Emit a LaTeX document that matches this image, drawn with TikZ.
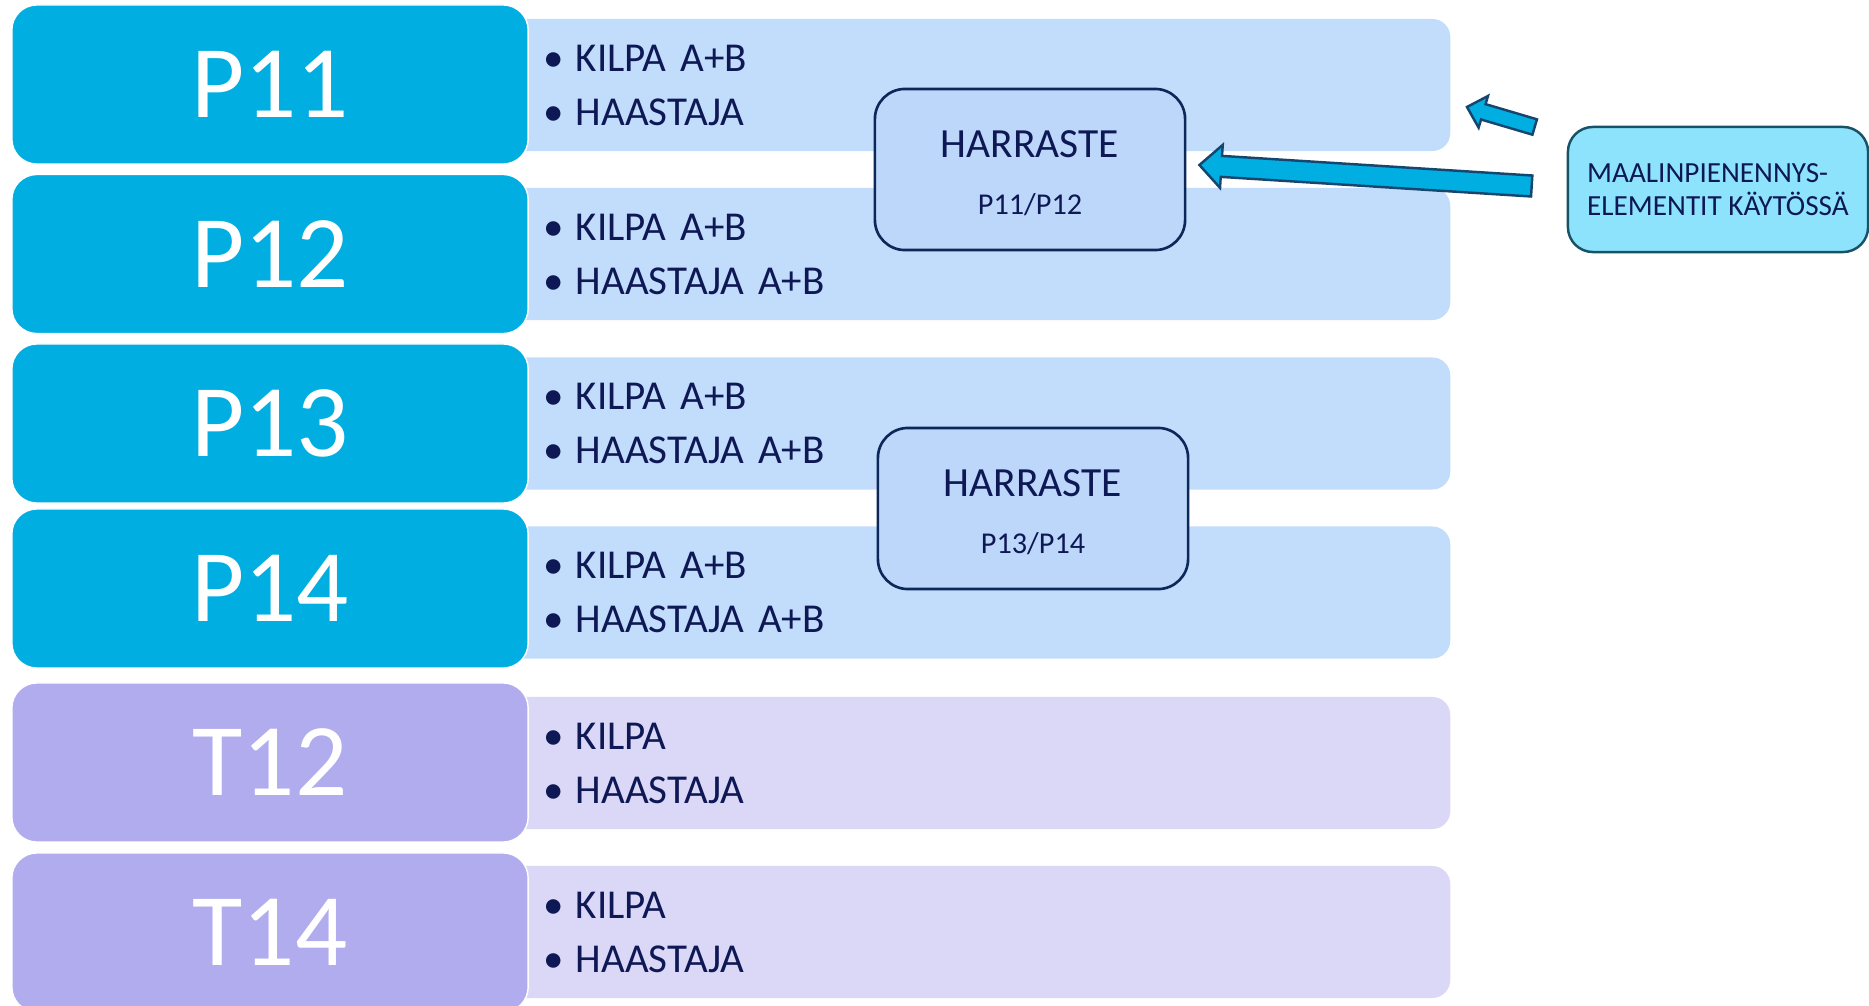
\documentclass[tikz,border=0pt]{standalone}
\usepackage{fontspec}
\setmainfont{Carlito}
\usepackage{tikz}
\usetikzlibrary{calc}

\definecolor{pcyan}{RGB}{0,174,225}
\definecolor{pbandc}{RGB}{194,220,252}
\definecolor{tlila}{RGB}{176,172,238}
\definecolor{tbandc}{RGB}{219,216,247}
\definecolor{harrfill}{RGB}{189,215,251}
\definecolor{navy}{RGB}{14,24,84}
\definecolor{harrline}{RGB}{12,40,88}
\definecolor{mbfill}{RGB}{142,227,252}
\definecolor{mbline}{RGB}{24,82,102}
\definecolor{arrline}{RGB}{22,70,110}

\tikzset{
	pbox/.style={fill=pcyan, draw=white, line width=0.4pt, rounded corners=0.25cm,
		minimum width=5.16cm, minimum height=1.59cm, text=white,
		font=\fontsize{29.3}{35}\selectfont},
	tbox/.style={pbox, fill=tlila},
	band/.style={fill=pbandc, rounded corners=0.18cm, minimum height=1.32cm,
		text width=8.62cm, inner xsep=0.44cm, inner ysep=0pt, align=left, text=navy,
		font=\fontsize{11.67}{15.36}\selectfont},
	tband/.style={band, fill=tbandc},
	harr/.style={fill=harrfill, draw=harrline, line width=0.75pt, rounded corners=0.3cm,
		minimum width=3.1cm, minimum height=1.61cm, align=center, text=navy,
		font=\fontsize{11.8}{16.2}\selectfont},
	note/.style={fill=mbfill, draw=mbline, line width=0.7pt, rounded corners=0.25cm,
		minimum width=3cm, minimum height=1.25cm, align=left, text=navy,
		font=\fontsize{8.3}{9.4}\selectfont},
	arrowbody/.style={fill=pcyan, draw=arrline, line width=0.7pt, line join=miter}
}

\newcommand{\itm}[1]{\makebox[0.32cm][l]{\textbullet}#1}
\newcommand{\harrtitle}{\rule{0pt}{0.34cm}HARRASTE}
\newcommand{\harrsub}[1]{\fontsize{8.6}{16.2}\selectfont #1}
% block arrow: tail, tip, shaft half width, head half width, head length
\newcommand{\blockarrow}[5]{%
	\coordinate (neck) at ($(#2)!#5!(#1)$);
	\draw[arrowbody] ($(#1)!#3!90:(#2)$) -- ($(neck)!#3!-90:(#1)$)
		-- ($(neck)!#4!-90:(#1)$) -- (#2) -- ($(neck)!#4!90:(#1)$)
		-- ($(neck)!#3!90:(#1)$) -- ($(#1)!#3!-90:(#2)$) -- cycle;
}

\begin{document}
\begin{tikzpicture}[x=0.01cm, y=-0.01cm]
	\useasboundingbox (0, 0) rectangle (1869, 1006);
	% bands
	\node[band] (b11) at (975, 85) {\itm{KILPA A+B}\\ \itm{HAASTAJA}};
	\node[band] (b12) at (975, 254) {\itm{KILPA A+B}\\ \itm{HAASTAJA A+B}};
	\node[band] (b13) at (975, 423.5) {\itm{KILPA A+B}\\ \itm{HAASTAJA A+B}};
	\node[band] (b14) at (975, 592.5) {\itm{KILPA A+B}\\ \itm{HAASTAJA A+B}};
	\node[tband] (c12) at (975, 763) {\itm{KILPA}\\ \itm{HAASTAJA}};
	\node[tband] (c14) at (975, 932) {\itm{KILPA}\\ \itm{HAASTAJA}};
	% age groups
	\node[pbox] (p11) at (270, 84.5) {P11};
	\node[pbox] (p12) at (270, 254) {P12};
	\node[pbox] (p13) at (270, 423.5) {P13};
	\node[pbox] (p14) at (270, 588.5) {P14};
	\node[tbox] (t12) at (270, 762.5) {T12};
	\node[tbox] (t14) at (270, 932.5) {T14};
	% harraste
	\node[harr] (h1) at (1030, 169.5) {\harrtitle\\ \harrsub{P11/P12}};
	\node[harr] (h2) at (1033, 508.5) {\harrtitle\\ \harrsub{P13/P14}};
	\node[note] (mb) at (1718, 189.5) {MAALINPIENENNYS-\\ELEMENTIT KÄYTÖSSÄ};
	% arrows
	\coordinate (a1s) at ($(mb.west)+(-35, -3.5)$);
	\coordinate (a1e) at ($(h1.east)+(13, -4.5)$);
	\coordinate (a2s) at ($(mb.west)+(-32, -62.5)$);
	\coordinate (a2e) at ($(b11.east)+(16, 22)$);
	\blockarrow{a1s}{a1e}{0.105cm}{0.215cm}{0.22cm}
	\blockarrow{a2s}{a2e}{0.08cm}{0.165cm}{0.17cm}
\end{tikzpicture}
\end{document}
